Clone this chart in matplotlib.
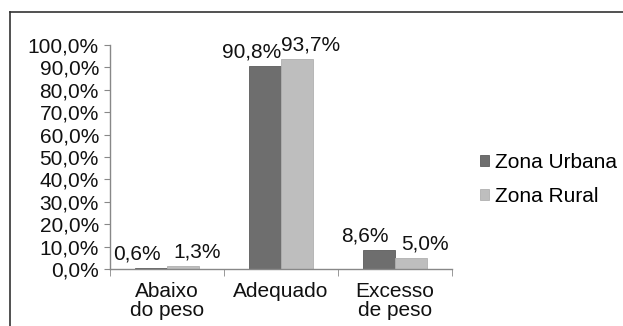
import numpy as np
import matplotlib
matplotlib.use("Agg")
from matplotlib import pyplot as plt
from matplotlib.lines import Line2D

plt.rcParams['font.family'] = ['Liberation Sans', 'DejaVu Sans']

categories = ['Abaixo\ndo peso', 'Adequado', 'Excesso\nde peso']
urbana = [0.6, 90.8, 8.6]
rural = [1.3, 93.7, 5.0]
series_names = ['Zona Urbana', 'Zona Rural']

dark = '#6e6e6e'
light = '#bebebe'
fs = 15

fig = plt.figure(figsize=(6.23, 3.26), dpi=100)
ax = fig.add_axes([0.1766, 0.1748, 0.5489, 0.6872])

x = np.arange(len(categories))
w = 0.28
b1 = ax.bar(x - w/2, urbana, w, color=dark, edgecolor='#5c5c5c', linewidth=0.6, label=series_names[0])
b2 = ax.bar(x + w/2, rural, w, color=light, edgecolor='#b0b0b0', linewidth=0.6, label=series_names[1])

# labels pushed a bit outward so neighbours do not collide
for bars, vals, dx in ((b1, urbana, -10), (b2, rural, 10)):
    for r, v in zip(bars, vals):
        ax.annotate(('%.1f%%' % v).replace('.', ','), (r.get_x() + r.get_width()/2, v),
                    xytext=(dx, 3), textcoords='offset points',
                    ha='center', va='bottom', fontsize=fs, color='#111111')

ax.set_xlim(-0.5, 2.5)
ax.set_ylim(0, 100)
yt = np.arange(0, 101, 10)
ax.set_yticks(yt)
ax.set_yticklabels([('%.1f%%' % v).replace('.', ',') for v in yt], fontsize=fs, color='#111111')
ax.set_xticks(x)
ax.set_xticklabels(categories, fontsize=fs, color='#111111', linespacing=1.0)
ax.tick_params(axis='x', length=0, pad=9)
ax.tick_params(axis='y', length=4, color='#888888', pad=4)
ax.set_xticks([-0.5, 0.5, 1.5, 2.5], minor=True)
ax.tick_params(axis='x', which='minor', length=5, color='#888888')

for s in ('top', 'right'):
    ax.spines[s].set_visible(False)
for s in ('left', 'bottom'):
    ax.spines[s].set_color('#888888')
    ax.spines[s].set_linewidth(1.0)

ax.legend(loc='center left', bbox_to_anchor=(1.02, 0.40), frameon=False, fontsize=fs,
          handlelength=0.45, handleheight=0.45, handletextpad=0.3, labelspacing=0.75,
          borderaxespad=0.6)

# outer frame (only left and top visible)
fig.add_artist(Line2D([10/623, 10/623], [0, 1 - 12/326], color='#333333', linewidth=1.2))
fig.add_artist(Line2D([10/623, 1], [1 - 12/326, 1 - 12/326], color='#333333', linewidth=1.2))

fig.savefig('out.png', dpi=100)
